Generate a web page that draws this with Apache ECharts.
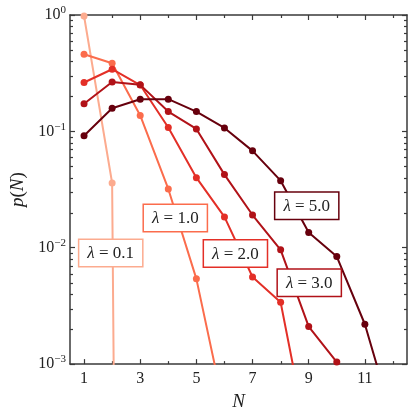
<!DOCTYPE html>
<html>
<head>
<meta charset="utf-8">
<script src="https://cdn.jsdelivr.net/npm/echarts@6/dist/echarts.min.js"></script>
<style>
  html, body { margin: 0; padding: 0; background: #fff; }
  #chart { width: 416px; height: 416px; }
</style>
</head>
<body>
<div id="chart"></div>
<script>
  // N on the x axis
  const nValues = [1, 2, 3, 4, 5, 6, 7, 8, 9, 10, 11, 12];
  const lambdas = ['0.1', '1.0', '2.0', '3.0', '5.0'];
  // p(N) for each lambda (0 = nothing, falls off the log axis)
  const p01 = [0.98, 0.036, 0];
  const p10 = [0.46, 0.385, 0.137, 0.032, 0.0054, 0.0004];
  const p20 = [0.263, 0.342, 0.25, 0.108, 0.040, 0.0184, 0.0056, 0.0034, 0.0002];
  const p30 = [0.173, 0.266, 0.251, 0.148, 0.105, 0.0425, 0.0191, 0.0096, 0.0021, 0.00104];
  const p50 = [0.0917, 0.158, 0.189, 0.189, 0.148, 0.107, 0.068, 0.0377, 0.0135, 0.0084, 0.0022, 0.00033];
  const allP = [p01, p10, p20, p30, p50];
  // where the lambda boxes sit (N, p)
  const labelAt = [[1.95, 0.009], [4.25, 0.018], [6.39, 0.0089], [9.02, 0.005], [8.93, 0.023]];

  const xTicks = [1, 3, 5, 7, 9, 11];
  const xMinor = [2, 4, 6, 8, 10, 12];
  const yTicks = [0.001, 0.01, 0.1, 1];
  const yMinor = [0.002, 0.003, 0.004, 0.005, 0.006, 0.007, 0.008, 0.009,
    0.02, 0.03, 0.04, 0.05, 0.06, 0.07, 0.08, 0.09,
    0.2, 0.3, 0.4, 0.5, 0.6, 0.7, 0.8, 0.9];

  const colors = ['#fcab8f', '#fb6c4c', '#e32f27', '#b11218', '#67000d'];
  const serif = 'Liberation Serif';
  const axisColor = '#3a3a3a';

  const myChart = echarts.init(document.getElementById('chart'));

  function xAx(pos, labels) {
    return {
      type: 'value', position: pos, min: 0.5, max: 12.5,
      axisLine: { show: true, onZero: false, lineStyle: { color: axisColor, width: 1.5 } },
      axisTick: { show: true, inside: true, length: 5, customValues: xTicks, lineStyle: { color: axisColor, width: 1.2 } },
      axisLabel: labels ? {
        show: true, customValues: xTicks, fontFamily: serif, fontSize: 16, color: '#222', margin: 7
      } : { show: false },
      splitLine: { show: false }
    };
  }

  function yAx(pos, labels) {
    return {
      type: 'log', logBase: 10, position: pos, min: 0.001, max: 1,
      axisLine: { show: true, onZero: false, lineStyle: { color: axisColor, width: 1.5 } },
      axisTick: { show: true, inside: true, length: 5, customValues: yTicks, lineStyle: { color: axisColor, width: 1.2 } },
      axisLabel: labels ? {
        show: true, customValues: yTicks, fontFamily: serif, fontSize: 16, color: '#222', margin: 4,
        formatter: function (v) {
          const e = Math.round(Math.log10(v));
          return '10{s|' + (e < 0 ? '\u2212' + (-e) : e) + '}';
        },
        rich: { s: { fontFamily: serif, fontSize: 11, color: '#222', padding: [0, 0, 9, 0] } }
      } : { show: false },
      splitLine: { show: false }
    };
  }

  const xAxes = [xAx('bottom', true), xAx('top', false)];
  xAxes[0].name = 'N';
  xAxes[0].nameLocation = 'middle';
  xAxes[0].nameGap = 24;
  xAxes[0].nameTextStyle = { fontFamily: serif, fontStyle: 'italic', fontSize: 19, color: '#222' };

  const yAxes = [yAx('left', true), yAx('right', false)];
  yAxes[0].name = '{i|p}({i|N})';
  yAxes[0].nameLocation = 'middle';
  yAxes[0].nameGap = 42;
  yAxes[0].nameTextStyle = {
    fontFamily: serif, fontSize: 19, color: '#222',
    rich: { i: { fontFamily: serif, fontStyle: 'italic', fontSize: 19, color: '#222' } }
  };

  const series = [];
  allP.forEach(function (arr, k) {
    series.push({
      name: 'λ = ' + lambdas[k],
      type: 'line',
      data: arr.map(function (v, i) { return [nValues[i], v > 0 ? v : 1e-30]; }),
      symbol: 'circle',
      symbolSize: 7,
      clip: true,
      itemStyle: { color: colors[k] },
      lineStyle: { color: colors[k], width: 2 },
      z: 2 + k,
      animation: false
    });
  });

  // minor ticks on all four sides, drawn inward from the frame
  function minorTicks(dim) {
    return function (params, api) {
      const cs = params.coordSys;
      const st = { stroke: axisColor, lineWidth: 1.2 };
      const len = 3;
      if (dim === 'x') {
        const px = Math.round(api.coord([api.value(0), 0.01])[0]) + 0.5;
        return { type: 'group', children: [
          { type: 'line', shape: { x1: px, y1: cs.y + cs.height, x2: px, y2: cs.y + cs.height - len }, style: st },
          { type: 'line', shape: { x1: px, y1: cs.y, x2: px, y2: cs.y + len }, style: st }
        ] };
      }
      const py = Math.round(api.coord([1, api.value(1)])[1]) + 0.5;
      return { type: 'group', children: [
        { type: 'line', shape: { x1: cs.x, y1: py, x2: cs.x + len, y2: py }, style: st },
        { type: 'line', shape: { x1: cs.x + cs.width, y1: py, x2: cs.x + cs.width - len, y2: py }, style: st }
      ] };
    };
  }
  series.push({
    type: 'custom', silent: true, z: 1, animation: false, clip: false,
    data: xMinor.map(function (v) { return [v, 0.01]; }),
    renderItem: minorTicks('x')
  });
  series.push({
    type: 'custom', silent: true, z: 1, animation: false, clip: false,
    data: yMinor.map(function (v) { return [1, v]; }),
    renderItem: minorTicks('y')
  });

  // boxed lambda labels
  series.push({
    type: 'custom', silent: true, z: 30, animation: false,
    data: labelAt.map(function (pt, k) { return [pt[0], pt[1], k]; }),
    renderItem: function (params, api) {
      const k = api.value(2);
      const p = api.coord([api.value(0), api.value(1)]);
      return {
        type: 'text', x: p[0], y: p[1], z2: 100,
        style: {
          text: '{i|λ} = ' + lambdas[k],
          fill: '#222',
          font: '17px "' + serif + '"',
          align: 'center', verticalAlign: 'middle',
          backgroundColor: '#fff',
          borderColor: colors[k],
          borderWidth: 1.5,
          padding: [5, 8, 4, 8],
          rich: { i: { fontFamily: serif, fontStyle: 'italic', fontSize: 17, fill: '#222' } }
        }
      };
    }
  });

  myChart.setOption({
    animation: false,
    grid: { left: 70, top: 15, right: 9, bottom: 51, containLabel: false },
    xAxis: xAxes,
    yAxis: yAxes,
    series: series
  });
</script>
</body>
</html>
